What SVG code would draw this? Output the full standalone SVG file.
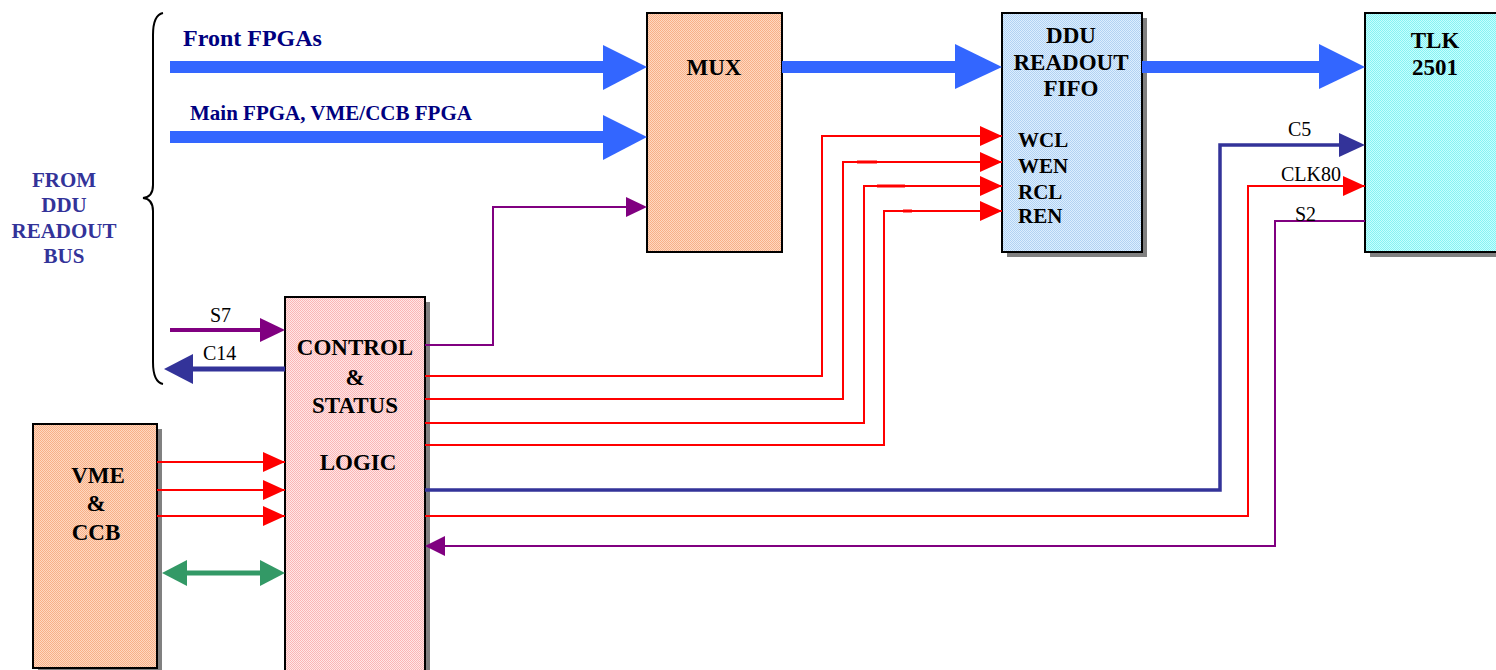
<svg xmlns="http://www.w3.org/2000/svg" width="1496" height="670" viewBox="0 0 1496 670">
<defs>
<pattern id="pPeach" width="2" height="2" patternUnits="userSpaceOnUse"><rect width="2" height="2" fill="#FFD8C0"/><rect width="1" height="1" fill="#F7B088"/><rect x="1" y="1" width="1" height="1" fill="#F7B088"/></pattern>
<pattern id="pPink" width="2" height="2" patternUnits="userSpaceOnUse"><rect width="2" height="2" fill="#FFE6E6"/><rect width="1" height="1" fill="#FAB6B6"/><rect x="1" y="1" width="1" height="1" fill="#FAB6B6"/></pattern>
<pattern id="pBlue" width="2" height="2" patternUnits="userSpaceOnUse"><rect width="2" height="2" fill="#DCEEFF"/><rect width="1" height="1" fill="#B2D2F2"/><rect x="1" y="1" width="1" height="1" fill="#B2D2F2"/></pattern>
<pattern id="pCyan" width="2" height="2" patternUnits="userSpaceOnUse"><rect width="2" height="2" fill="#C4FFFF"/><rect width="1" height="1" fill="#88F2F2"/><rect x="1" y="1" width="1" height="1" fill="#88F2F2"/></pattern>
<marker id="mRed" markerUnits="userSpaceOnUse" markerWidth="22" markerHeight="20" refX="22" refY="10" orient="auto"><path d="M0,0 L22,10 L0,20 Z" fill="#FF0000"/></marker>
</defs>
<style>
.box{stroke:#000;stroke-width:2}
.shadow{fill:#808080}
.lbl{font-family:"Liberation Serif",serif;font-weight:bold;fill:#000;font-size:23px;text-anchor:middle}
.sig{font-family:"Liberation Serif",serif;font-weight:bold;fill:#000;font-size:21px}
.wire{font-family:"Liberation Serif",serif;fill:#000;font-size:20px}
.title{font-family:"Liberation Serif",serif;font-weight:bold;fill:#000080}
.from{font-family:"Liberation Serif",serif;font-weight:bold;fill:#333399;font-size:21px;text-anchor:middle}
.red{fill:none;stroke:#FF0000;stroke-width:2}
.pur{fill:none;stroke:#800080;stroke-width:2}
.bus{fill:#3366FF}
</style>

<g id="brace"><path d="M163,13 Q153,15 153,35 L153,185 Q153,197 143,198 Q153,199 153,211 L153,362 Q153,382 163,384" fill="none" stroke="#000" stroke-width="2"/></g>

<g id="labels">
<text class="title" x="183" y="46" font-size="24">Front FPGAs</text>
<text class="title" x="190" y="120" font-size="21">Main FPGA, VME/CCB FPGA</text>
<text class="from" x="64" y="187">FROM</text>
<text class="from" x="64" y="212">DDU</text>
<text class="from" x="64" y="238">READOUT</text>
<text class="from" x="64" y="263">BUS</text>
</g>

<g id="mux">
<rect class="box" x="647" y="13" width="135" height="239" fill="url(#pPeach)"/>
<text class="lbl" x="714" y="75" font-size="24">MUX</text>
</g>

<g id="ddu">
<rect class="shadow" x="1007" y="18" width="140" height="239"/>
<rect class="box" x="1002" y="13" width="140" height="239" fill="url(#pBlue)"/>
<text class="lbl" x="1071" y="43" font-size="21">DDU</text>
<text class="lbl" x="1071" y="70" font-size="21">READOUT</text>
<text class="lbl" x="1071" y="96" font-size="21">FIFO</text>
<text class="sig" x="1018" y="147">WCL</text>
<text class="sig" x="1018" y="173">WEN</text>
<text class="sig" x="1018" y="199">RCL</text>
<text class="sig" x="1018" y="223">REN</text>
</g>

<g id="tlk">
<rect class="shadow" x="1370" y="18" width="140" height="239"/>
<rect class="box" x="1365" y="13" width="140" height="239" fill="url(#pCyan)"/>
<text class="lbl" x="1435" y="48" font-size="24">TLK</text>
<text class="lbl" x="1435" y="75" font-size="24">2501</text>
</g>

<g id="control">
<rect class="shadow" x="290" y="302" width="140" height="380"/>
<rect class="box" x="285" y="297" width="140" height="380" fill="url(#pPink)"/>
<text class="lbl" x="355" y="355">CONTROL</text>
<text class="lbl" x="355" y="385">&amp;</text>
<text class="lbl" x="355" y="413">STATUS</text>
<text class="lbl" x="358" y="470">LOGIC</text>
</g>

<g id="vme">
<rect class="shadow" x="38" y="429" width="124" height="250"/>
<rect class="box" x="33" y="424" width="124" height="244" fill="url(#pPeach)"/>
<text class="lbl" x="98" y="483">VME</text>
<text class="lbl" x="96" y="511">&amp;</text>
<text class="lbl" x="96" y="540">CCB</text>
</g>

<g id="connectors">
<rect class="bus" x="170" y="61" width="434" height="12"/>
<polygon class="bus" points="603,45 647,67 603,90"/>
<rect class="bus" x="170" y="131" width="434" height="12"/>
<polygon class="bus" points="603,115 647,137 603,160"/>
<rect class="bus" x="782" y="61" width="174" height="12"/>
<polygon class="bus" points="955,44 1002,67 955,89"/>
<rect class="bus" x="1142" y="61" width="178" height="12"/>
<polygon class="bus" points="1319,44 1365,67 1319,89"/>

<polyline class="pur" points="425,345 493,345 493,207 627,207"/>
<polygon points="626,197 647,207 626,217" fill="#800080"/>

<polyline class="red" points="425,376 822,376 822,136 1002,136" marker-end="url(#mRed)"/>
<polyline class="red" points="425,399 843,399 843,162 1002,162" marker-end="url(#mRed)"/>
<polyline class="red" points="425,423 864,423 864,186 1002,186" marker-end="url(#mRed)"/>
<polyline class="red" points="425,445 884,445 884,211 1002,211" marker-end="url(#mRed)"/>
<line x1="857" y1="162" x2="877" y2="162" stroke="#FF0000" stroke-width="3"/>
<line x1="877" y1="186" x2="905" y2="186" stroke="#FF0000" stroke-width="3"/>
<line x1="903" y1="211" x2="912" y2="211" stroke="#FF0000" stroke-width="3"/>

<polyline points="425,490 1220,490 1220,145 1340,145" fill="none" stroke="#333399" stroke-width="3.5"/>
<polygon points="1339,133 1365,145 1339,157" fill="#333399"/>
<polyline class="red" points="425,516 1248,516 1248,186 1365,186" marker-end="url(#mRed)"/>
<polyline class="pur" points="1365,221 1275,221 1275,546 444,546"/>
<polygon points="445,536 425,546 445,556" fill="#800080"/>

<line x1="170" y1="330" x2="261" y2="330" stroke="#800080" stroke-width="4"/>
<polygon points="260,318 285,330 260,342" fill="#800080"/>
<line x1="285" y1="369" x2="192" y2="369" stroke="#333399" stroke-width="5"/>
<polygon points="193,354 164,369 193,384" fill="#333399"/>

<line class="red" x1="157" y1="462" x2="285" y2="462" marker-end="url(#mRed)"/>
<line class="red" x1="157" y1="490" x2="285" y2="490" marker-end="url(#mRed)"/>
<line class="red" x1="157" y1="516" x2="285" y2="516" marker-end="url(#mRed)"/>
<line x1="185" y1="573" x2="262" y2="573" stroke="#339966" stroke-width="5"/>
<polygon points="187,560 162,573 187,586" fill="#339966"/>
<polygon points="260,560 285,573 260,586" fill="#339966"/>

<text class="wire" x="1288" y="136">C5</text>
<text class="wire" x="1281" y="181">CLK80</text>
<text class="wire" x="1295" y="221">S2</text>
<text class="wire" x="210" y="322">S7</text>
<text class="wire" x="203" y="360">C14</text>
</g>
</svg>
